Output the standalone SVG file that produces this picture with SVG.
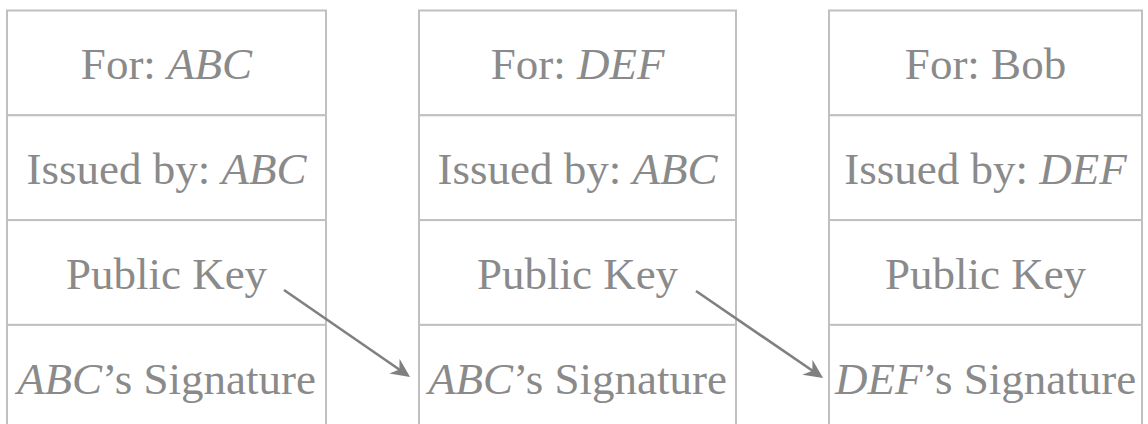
<svg xmlns="http://www.w3.org/2000/svg" width="1148" height="424" viewBox="0 0 1148 424">
  <style>
    .cell { fill: #ffffff; stroke: #c0c0c0; stroke-width: 2; }
    .t { font-family: "Liberation Serif", "DejaVu Serif", serif; font-size: 45px; fill: #8a8a8a; text-anchor: middle; }
    .i { font-style: italic; }
    .conn { stroke: #808080; stroke-width: 2.6; fill: none; }
  </style>
  <defs>
    <marker id="head" markerUnits="userSpaceOnUse" markerWidth="26" markerHeight="26" viewBox="-22 -13 26 26" refX="-3" refY="0" orient="auto">
      <path d="M0,0 L-19,-9 L-13,0 L-19,9 Z" fill="#808080"/>
    </marker>
  </defs>
  <rect width="1148" height="424" fill="#ffffff"/>

  <g id="cert1">
    <rect class="cell" x="7" y="10.5" width="319" height="104.8"/>
    <rect class="cell" x="7" y="115.3" width="319" height="104.8"/>
    <rect class="cell" x="7" y="220.1" width="319" height="104.8"/>
    <rect class="cell" x="7" y="324.9" width="319" height="104.8"/>
    <text class="t" x="166.5" y="79">For: <tspan class="i">ABC</tspan></text>
    <text class="t" x="166.5" y="184">Issued by: <tspan class="i">ABC</tspan></text>
    <text class="t" x="166.5" y="289">Public Key</text>
    <text class="t" x="166.5" y="394"><tspan class="i">ABC</tspan>’s Signature</text>
  </g>

  <g id="cert2">
    <rect class="cell" x="419" y="10.5" width="317" height="104.8"/>
    <rect class="cell" x="419" y="115.3" width="317" height="104.8"/>
    <rect class="cell" x="419" y="220.1" width="317" height="104.8"/>
    <rect class="cell" x="419" y="324.9" width="317" height="104.8"/>
    <text class="t" x="577.5" y="79">For: <tspan class="i">DEF</tspan></text>
    <text class="t" x="577.5" y="184">Issued by: <tspan class="i">ABC</tspan></text>
    <text class="t" x="577.5" y="289">Public Key</text>
    <text class="t" x="577.5" y="394"><tspan class="i">ABC</tspan>’s Signature</text>
  </g>

  <g id="cert3">
    <rect class="cell" x="829" y="10.5" width="313" height="104.8"/>
    <rect class="cell" x="829" y="115.3" width="313" height="104.8"/>
    <rect class="cell" x="829" y="220.1" width="313" height="104.8"/>
    <rect class="cell" x="829" y="324.9" width="313" height="104.8"/>
    <text class="t" x="985.5" y="79">For: Bob</text>
    <text class="t" x="985.5" y="184">Issued by: <tspan class="i">DEF</tspan></text>
    <text class="t" x="985.5" y="289">Public Key</text>
    <text class="t" x="985.5" y="394"><tspan class="i">DEF</tspan>’s Signature</text>
  </g>

  <g id="connectors">
    <line class="conn" x1="284" y1="290" x2="407.6" y2="375.3" marker-end="url(#head)"/>
    <line class="conn" x1="696" y1="291" x2="820.6" y2="376.3" marker-end="url(#head)"/>
  </g>
</svg>
